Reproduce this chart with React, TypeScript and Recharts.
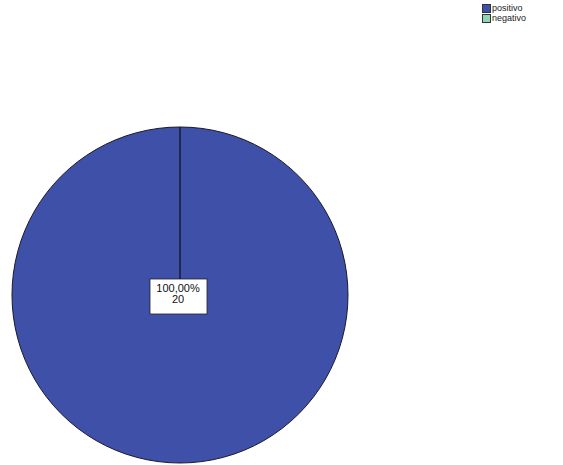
import React from "react";
import { PieChart, Pie, Cell, Legend } from "recharts";

const categories = ["positivo", "negativo"];
const counts = [20, 0];
const percentLabels = ["100,00%", "0,00%"];
const colors = ["#3f50a8", "#8ed6b4"];

const data = categories.map((name, i) => ({ name, value: counts[i], pct: percentLabels[i] }));

const renderLabel = (props: any) => {
  const { cx, cy, index, value } = props;
  if (!value) return null;
  const d = data[index];
  return (
    <g>
      <rect x={cx - 30} y={cy - 16} width={57} height={35} fill="#ffffff" stroke="#222" strokeWidth={0.8} />
      <text x={cx - 2} y={cy - 3} textAnchor="middle" fontFamily="Liberation Sans, Arial, sans-serif" fontSize={11} fill="#111">
        {d.pct}
      </text>
      <text x={cx - 2} y={cy + 8} textAnchor="middle" fontFamily="Liberation Sans, Arial, sans-serif" fontSize={11} fill="#111">
        {d.value}
      </text>
    </g>
  );
};

const renderLegend = () => (
  <div style={{ fontFamily: "Liberation Sans, Arial, sans-serif", fontSize: 9, lineHeight: "10px", color: "#222" }}>
    {categories.map((c, i) => (
      <div key={c} style={{ display: "flex", alignItems: "center", height: 10 }}>
        <span style={{ display: "inline-block", width: 7, height: 7, background: colors[i], border: "1px solid #333", marginRight: 1 }} />
        <span>{c}</span>
      </div>
    ))}
  </div>
);

export default function App() {
  return (
    <div style={{ position: "absolute", left: 0, top: 0, width: 563, height: 465, background: "#fff" }}>
      <PieChart width={563} height={465} margin={{ top: 0, right: 0, bottom: 0, left: 0 }}>
        <Pie
          data={data}
          dataKey="value"
          nameKey="name"
          cx={180}
          cy={295}
          outerRadius={168}
          startAngle={90}
          endAngle={-270}
          stroke="#1a1a2a"
          strokeWidth={1}
          label={renderLabel}
          labelLine={false}
          isAnimationActive={false}
        >
          {data.map((d, i) => (
            <Cell key={d.name} fill={colors[i]} />
          ))}
        </Pie>
        <Legend content={renderLegend} wrapperStyle={{ position: "absolute", left: 482, top: 3, width: 80 }} />
      </PieChart>
    </div>
  );
}
